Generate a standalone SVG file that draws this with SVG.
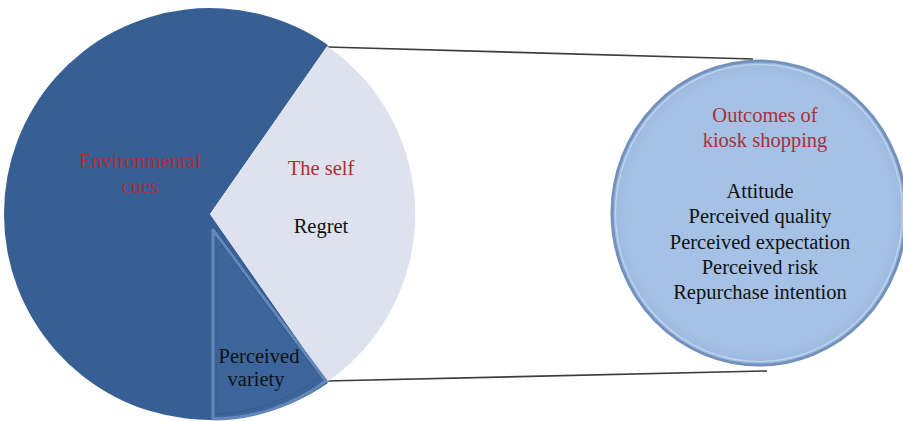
<svg xmlns="http://www.w3.org/2000/svg" width="903" height="421" viewBox="0 0 903 421">
<style>
text{font-family:"Liberation Serif","DejaVu Serif","Times New Roman",serif;font-size:20.5px;text-anchor:middle}
.red{fill:#ab3036}
.blk{fill:#111}
.conn{stroke:#3c3c3c;stroke-width:1.6;fill:none}
</style>
<defs>
<radialGradient id="outG" cx="0.5" cy="0.5" r="0.5">
<stop offset="0.9" stop-color="#a5c1e5"/>
<stop offset="1" stop-color="#9bb8de"/>
</radialGradient>
</defs>
<rect width="903" height="421" fill="#ffffff"/>
<g id="connectors">
<line class="conn" x1="327" y1="47" x2="753" y2="59"/>
<line class="conn" x1="326" y1="381" x2="767" y2="371"/>
</g>
<g id="environmental-cues">
<path d="M210,214 L327.9,45.1 A206,206 0 1 0 327.9,382.9 Z" fill="#375f94"/>
<text class="red" x="140" y="168">Environmental</text>
<text class="red" x="140" y="193">cues</text>
</g>
<g id="the-self">
<path d="M210,214 L327.2,46.2 A204,204 0 0 1 327.2,381.8 Z" fill="#dde2ee"/>
<text class="red" x="321" y="175">The self</text>
<text class="blk" x="321" y="233">Regret</text>
</g>
<g id="perceived-variety">
<path d="M213,230 L326,381 A189,189 0 0 1 213,419 Z" fill="#3c669b" stroke="#6388b8" stroke-width="3" stroke-linejoin="round"/>
<path d="M216,237 L320,377 A183,183 0 0 1 216,414 Z" fill="none" stroke="#345c90" stroke-width="1"/>
<text class="blk" x="259" y="363">Perceived</text>
<text class="blk" x="256" y="386">variety</text>
</g>
<g id="outcomes">
<ellipse cx="759" cy="213" rx="147" ry="152" fill="url(#outG)" stroke="#7391bb" stroke-width="3"/>
<ellipse cx="759" cy="213" rx="143.5" ry="148.5" fill="none" stroke="#c2d5ee" stroke-width="1.2"/>
<text class="red" x="765" y="122">Outcomes of</text>
<text class="red" x="765" y="147">kiosk shopping</text>
<text class="blk" x="760" y="198">Attitude</text>
<text class="blk" x="760" y="223">Perceived quality</text>
<text class="blk" x="760" y="249">Perceived expectation</text>
<text class="blk" x="760" y="274">Perceived risk</text>
<text class="blk" x="760" y="299">Repurchase intention</text>
</g>
</svg>
